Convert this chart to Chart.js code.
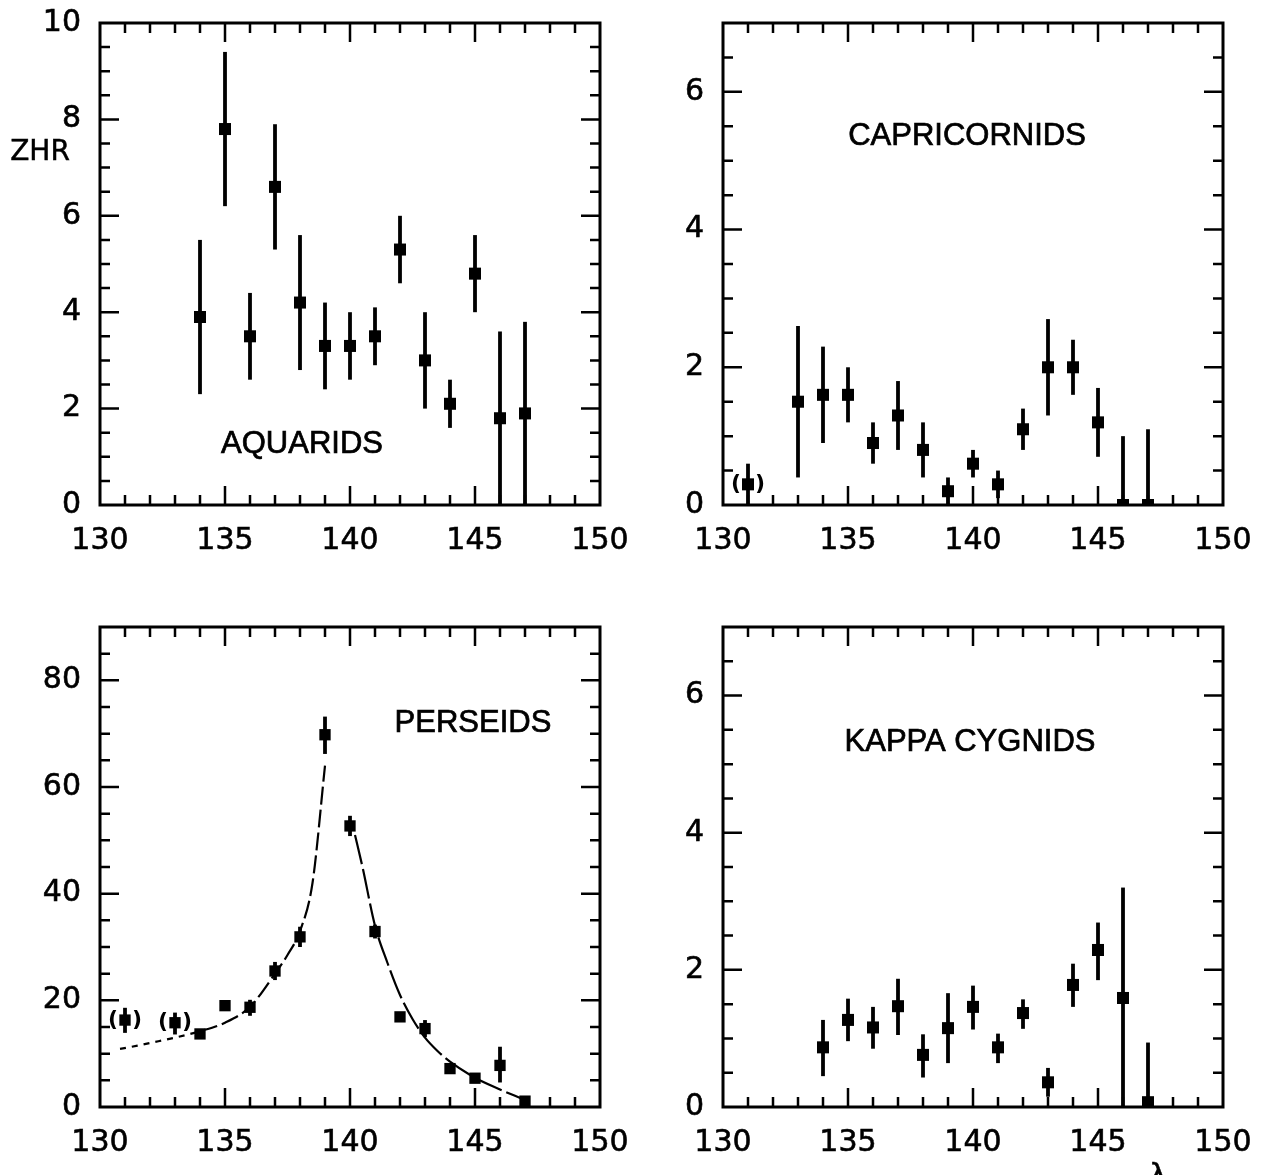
<!DOCTYPE html>
<html><head><meta charset="utf-8">
<script src="https://cdn.jsdelivr.net/npm/chart.js@4.4.1/dist/chart.umd.min.js"></script>
<style>
html,body{margin:0;padding:0;background:#fff;width:1266px;height:1175px;overflow:hidden;position:relative}
canvas{position:absolute;display:block}
.txt{position:absolute;font-family:"DejaVu Sans";color:#000;white-space:nowrap;-webkit-text-stroke:0.5px #000}
</style></head><body>
<canvas id="c1" width="633" height="590" style="left:0;top:0"></canvas>
<canvas id="c2" width="633" height="590" style="left:633px;top:0"></canvas>
<canvas id="c3" width="633" height="585" style="left:0;top:590px"></canvas>
<canvas id="c4" width="633" height="585" style="left:633px;top:590px"></canvas>
<div class="txt" style="left:0;top:137px;width:80px;text-align:center;font-size:28px;line-height:28px">ZHR</div>
<div class="txt" style="left:1143px;top:1160px;width:30px;text-align:center;font-size:30px;line-height:30px">λ</div>
<script>
// ---- tick labels ----
const lambdaTicks = [130, 135, 140, 145, 150];
const zhrTicksAquarids = [0, 2, 4, 6, 8, 10];
const zhrTicksSmall = [0, 2, 4, 6];
const zhrTicksPerseids = [0, 20, 40, 60, 80];

// ---- AQUARIDS ----
const aquaridsLambda = [134, 135, 136, 137, 138, 139, 140, 141, 142, 143, 144, 145, 146, 147];
const aquaridsZHR    = [3.9, 7.8, 3.5, 6.6, 4.2, 3.3, 3.3, 3.5, 5.3, 3.0, 2.1, 4.8, 1.8, 1.9];
const aquaridsLow    = [2.3, 6.2, 2.6, 5.3, 2.8, 2.4, 2.6, 2.9, 4.6, 2.0, 1.6, 4.0, 0, 0];
const aquaridsHigh   = [5.5, 9.4, 4.4, 7.9, 5.6, 4.2, 4.0, 4.1, 6.0, 4.0, 2.6, 5.6, 3.6, 3.8];

// ---- CAPRICORNIDS ----
const capricornidsLambda = [131, 133, 134, 135, 136, 137, 138, 139, 140, 141, 142, 143, 144, 145, 146, 147];
const capricornidsZHR    = [0.3, 1.5, 1.6, 1.6, 0.9, 1.3, 0.8, 0.2, 0.6, 0.3, 1.1, 2.0, 2.0, 1.2, 0, 0];
const capricornidsLow    = [0, 0.4, 0.9, 1.2, 0.6, 0.8, 0.4, 0, 0.4, 0.1, 0.8, 1.3, 1.6, 0.7, 0, 0];
const capricornidsHigh   = [0.6, 2.6, 2.3, 2.0, 1.2, 1.8, 1.2, 0.4, 0.8, 0.5, 1.4, 2.7, 2.4, 1.7, 1.0, 1.1];
const capricornidsBracketed = [131];

// ---- PERSEIDS ----
const perseidsLambda = [131, 133, 134, 135, 136, 137, 138, 139, 140, 141, 142, 143, 144, 145, 146, 147];
const perseidsZHR    = [16.3, 15.8, 13.7, 19.0, 18.7, 25.5, 31.9, 69.8, 52.7, 32.9, 16.9, 14.7, 7.2, 5.4, 7.8, 1.1];
const perseidsLow    = [13.9, 13.6, 13.0, 18.3, 17.1, 23.8, 30.0, 66.2, 50.8, 31.6, 16.3, 13.1, 6.6, 4.8, 4.6, 0.5];
const perseidsHigh   = [18.6, 17.7, 14.4, 19.7, 20.1, 27.2, 33.8, 73.2, 54.6, 34.2, 17.5, 16.3, 7.8, 6.0, 11.3, 1.7];
const perseidsBracketed = [131, 133];
const perseidsFitLambda = [130.8, 131.5, 132, 133, 134, 135, 136, 137, 137.5, 138, 138.5, 139.0, 139.5, 140.2, 140.5, 141, 141.5, 142, 142.5, 143, 143.5, 144, 145, 146, 146.9];
const perseidsFitZHR    = [10.9, 11.5, 12.0, 13.0, 14.2, 15.8, 18.8, 25.0, 28.5, 33, 42, 64, null, 51, 45, 34, 27, 21, 16.5, 13, 10.5, 8.5, 5.5, 3.3, 1.5];

// ---- KAPPA CYGNIDS ----
const kappaLambda = [134, 135, 136, 137, 138, 139, 140, 141, 142, 143, 144, 145, 146, 147];
const kappaZHR    = [0.87, 1.27, 1.16, 1.47, 0.76, 1.15, 1.46, 0.87, 1.37, 0.36, 1.78, 2.29, 1.59, 0.07];
const kappaLow    = [0.45, 0.96, 0.85, 1.05, 0.43, 0.64, 1.13, 0.64, 1.14, 0.15, 1.46, 1.85, 0, 0];
const kappaHigh   = [1.27, 1.58, 1.46, 1.87, 1.06, 1.66, 1.77, 1.07, 1.57, 0.57, 2.09, 2.69, 3.2, 0.94];

const framePlugin = {
  id: 'frame',
  afterDatasetsDraw(chart, args, o) {
    const ctx = chart.ctx, xs = chart.scales.x, ys = chart.scales.y, a = chart.chartArea;
    ctx.save();
    ctx.strokeStyle = '#000'; ctx.fillStyle = '#000';
    // error bars
    ctx.save();
    ctx.beginPath(); ctx.rect(a.left, a.top, a.right - a.left, a.bottom - a.top); ctx.clip();
    ctx.lineWidth = 3.8; ctx.lineCap = 'butt';
    o.errX.forEach((x, i) => {
      const px = xs.getPixelForValue(x);
      ctx.beginPath();
      ctx.moveTo(px, ys.getPixelForValue(o.errLo[i]));
      ctx.lineTo(px, ys.getPixelForValue(o.errHi[i]));
      ctx.stroke();
    });
    ctx.restore();
    // bracketed points
    if (o.bracket) {
      ctx.font = 'bold 22px "DejaVu Sans"';
      ctx.textAlign = 'center'; ctx.textBaseline = 'middle';
      o.bracket.forEach(x => {
        const i = o.errX.indexOf(x);
        const px = xs.getPixelForValue(x), py = ys.getPixelForValue(o.pointY[i]);
        ctx.fillText('(', px - 12, py);
        ctx.fillText(')', px + 12, py);
      });
    }
    // frame
    ctx.lineWidth = 3;
    ctx.strokeRect(a.left, a.top, a.right - a.left, a.bottom - a.top);
    // inward ticks
    ctx.lineWidth = 2.5;
    ctx.beginPath();
    for (let v = xs.min + 1; v < xs.max; v += 1) {
      const px = xs.getPixelForValue(v);
      const len = (v % 5 === 0) ? 19 : 10;
      ctx.moveTo(px, a.bottom); ctx.lineTo(px, a.bottom - len);
      ctx.moveTo(px, a.top); ctx.lineTo(px, a.top + len);
    }
    for (let v = ys.min + o.yMinor; v < ys.max - 1e-9; v += o.yMinor) {
      const py = ys.getPixelForValue(v);
      const len = (Math.abs(v / o.yMajor - Math.round(v / o.yMajor)) < 1e-6) ? 19 : 10;
      ctx.moveTo(a.left, py); ctx.lineTo(a.left + len, py);
      ctx.moveTo(a.right, py); ctx.lineTo(a.right - len, py);
    }
    ctx.stroke();
    // panel title
    ctx.font = '31px "Liberation Sans"';
    ctx.textAlign = 'center'; ctx.textBaseline = 'middle';
    const tx = xs.getPixelForValue(o.titleAt[0]), ty = ys.getPixelForValue(o.titleAt[1]);
    ctx.lineWidth = 0.7;
    ctx.fillText(o.title, tx, ty);
    ctx.strokeText(o.title, tx, ty);
    ctx.restore();
  }
};

const tickFont = { family: 'DejaVu Sans', size: 30 };

function pointsDataset(xs, ys, r) {
  return {
    data: xs.map((x, i) => ({ x: x, y: ys[i] })),
    pointStyle: 'rect', pointRadius: r, pointHoverRadius: r,
    backgroundColor: '#000', borderColor: '#000', borderWidth: 0,
    showLine: false, clip: 0, order: 0
  };
}

function makeChart(id, c) {
  return new Chart(document.getElementById(id), {
    type: 'scatter',
    data: { datasets: c.datasets },
    options: {
      responsive: false, animation: false, events: [],
      layout: { padding: c.padding },
      plugins: { legend: { display: false }, tooltip: { enabled: false }, frame: c.frame },
      scales: {
        x: {
          type: 'linear', min: 130, max: 150, position: 'bottom',
          afterBuildTicks: s => { s.ticks = lambdaTicks.map(v => ({ value: v })); },
          afterFit: s => { s.height = 60; s.paddingLeft = 0; s.paddingRight = 0; },
          grid: { display: false, drawTicks: false }, border: { display: false },
          ticks: { padding: 18, font: tickFont, color: '#000', autoSkip: false, maxRotation: 0,
                   textStrokeColor: '#000', textStrokeWidth: 0.6 }
        },
        y: {
          type: 'linear', min: 0, max: c.yMax, position: 'left',
          afterBuildTicks: s => { s.ticks = c.yTicks.map(v => ({ value: v })); },
          afterFit: s => { s.width = c.yWidth; s.paddingTop = 0; s.paddingBottom = 0; },
          grid: { display: false, drawTicks: false }, border: { display: false },
          ticks: { padding: 19, font: tickFont, color: '#000', autoSkip: false,
                   textStrokeColor: '#000', textStrokeWidth: 0.6 }
        }
      }
    },
    plugins: [framePlugin]
  });
}

makeChart('c1', {
  datasets: [pointsDataset(aquaridsLambda, aquaridsZHR, 8.5)],
  padding: { left: 0, top: 23, right: 33, bottom: 25 }, yWidth: 100,
  yMax: 10, yTicks: zhrTicksAquarids,
  frame: { errX: aquaridsLambda, errLo: aquaridsLow, errHi: aquaridsHigh, pointY: aquaridsZHR,
           yMinor: 0.5, yMajor: 2, title: 'AQUARIDS', titleAt: [138.08, 1.25] }
});

makeChart('c2', {
  datasets: [pointsDataset(capricornidsLambda, capricornidsZHR, 8.5)],
  padding: { left: 0, top: 23, right: 43, bottom: 25 }, yWidth: 90,
  yMax: 7, yTicks: zhrTicksSmall,
  frame: { errX: capricornidsLambda, errLo: capricornidsLow, errHi: capricornidsHigh, pointY: capricornidsZHR,
           bracket: capricornidsBracketed,
           yMinor: 0.5, yMajor: 2, title: 'CAPRICORNIDS', titleAt: [139.76, 5.35] }
});

makeChart('c3', {
  datasets: [
    pointsDataset(perseidsLambda, perseidsZHR, 8),
    {
      type: 'line',
      data: perseidsFitLambda.map((x, i) => ({ x: x, y: perseidsFitZHR[i] })),
      borderColor: '#000', borderWidth: 2.2, pointRadius: 0, fill: false,
      cubicInterpolationMode: 'monotone', spanGaps: false, order: 1,
      segment: {
        borderDash: ctx => ctx.p0.parsed.x < 134 ? [6, 6] : (ctx.p0.parsed.x < 139.6 ? [18, 5] : [30, 5])
      }
    }
  ],
  padding: { left: 0, top: 37, right: 33, bottom: 8 }, yWidth: 100,
  yMax: 90, yTicks: zhrTicksPerseids,
  frame: { errX: perseidsLambda, errLo: perseidsLow, errHi: perseidsHigh, pointY: perseidsZHR,
           bracket: perseidsBracketed,
           yMinor: 5, yMajor: 20, title: 'PERSEIDS', titleAt: [144.92, 71.9] }
});

makeChart('c4', {
  datasets: [pointsDataset(kappaLambda, kappaZHR, 8.5)],
  padding: { left: 0, top: 37, right: 43, bottom: 8 }, yWidth: 90,
  yMax: 7, yTicks: zhrTicksSmall,
  frame: { errX: kappaLambda, errLo: kappaLow, errHi: kappaHigh, pointY: kappaZHR,
           yMinor: 0.5, yMajor: 2, title: 'KAPPA CYGNIDS', titleAt: [139.88, 5.31] }
});
</script>
</body></html>
